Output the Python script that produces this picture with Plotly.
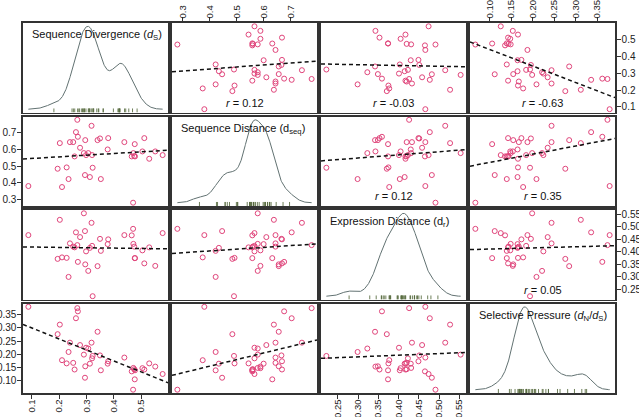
import numpy as np
import plotly.graph_objects as go

# ---- data ----
ds = [0.087, 0.194, 0.202, 0.210, 0.227, 0.234, 0.239, 0.251, 0.256, 0.261,
      0.266, 0.268, 0.276, 0.290, 0.294, 0.295, 0.298, 0.306, 0.312, 0.318,
      0.320, 0.322, 0.340, 0.349, 0.352, 0.377, 0.379, 0.438, 0.465, 0.470,
      0.471, 0.474, 0.476, 0.477, 0.504, 0.511, 0.529, 0.551, 0.578]
dseq = [0.380, 0.484, 0.638, 0.374, 0.492, 0.422, 0.644, 0.644, 0.558, 0.704,
        0.778, 0.676, 0.610, 0.578, 0.446, 0.656, 0.566, 0.578, 0.434, 0.742,
        0.566, 0.490, 0.656, 0.666, 0.422, 0.600, 0.668, 0.644, 0.558, 0.280,
        0.578, 0.560, 0.632, 0.558, 0.588, 0.668, 0.544, 0.588, 0.566]
dr = [0.466, 0.371, 0.527, 0.377, 0.375, 0.299, 0.433, 0.420, 0.417, 0.477,
      0.426, 0.359, 0.458, 0.553, 0.482, 0.349, 0.401, 0.323, 0.415, 0.515,
      0.423, 0.222, 0.342, 0.451, 0.403, 0.430, 0.449, 0.466, 0.465, 0.491,
      0.431, 0.420, 0.374, 0.374, 0.405, 0.353, 0.417, 0.343, 0.474]
dnds = [0.379, 0.276, 0.312, 0.178, 0.166, 0.209, 0.244, 0.168, 0.143, 0.336,
        0.374, 0.362, 0.235, 0.199, 0.112, 0.155, 0.225, 0.222, 0.165, 0.244,
        0.185, 0.194, 0.285, 0.196, 0.140, 0.165, 0.174, 0.188, 0.136, 0.067,
        0.149, 0.144, 0.106, 0.140, 0.148, 0.143, 0.166, 0.154, 0.126]

variables = [ds, dseq, dr, dnds]
diag_labels = [
    "Sequence Divergence (<i>d</i><sub>S</sub>)",
    "Sequence Distance (d<sub>seq</sub>)",
    "Expression Distance (d<sub>r</sub>)",
    "Selective Pressure (<i>d</i><sub>N</sub>/<i>d</i><sub>S</sub>)",
]
r_labels = {(0, 1): "0.12", (0, 2): "-0.03", (0, 3): "-0.63",
            (1, 2): "0.12", (1, 3): "0.35", (2, 3): "0.05"}
tick_labels = [
    ["0.1", "0.2", "0.3", "0.4", "0.5"],
    ["0.3", "0.4", "0.5", "0.6", "0.7"],
    ["0.25", "0.30", "0.35", "0.40", "0.45", "0.50", "0.55"],
    ["0.10", "0.15", "0.20", "0.25", "0.30", "0.35"],
]

# ---- styling / geometry (pixels) ----
W, H = 639, 417
LEFT, TOP, PW, PH, GAP = 23, 23, 145, 89.5, 4
FRAME = "#333333"
PT_COLOR = "#e0457b"
DENS_COLOR = "#627272"
RUG_COLOR = "rgba(85,105,60,0.85)"
FONT = "Liberation Sans, Arial, sans-serif"

def fx(px):
    return px / W

def fy(py):
    return 1 - py / H

def col_px(j):
    return LEFT + j * (PW + GAP), LEFT + j * (PW + GAP) + PW

def row_px(i):
    return TOP + i * (PH + GAP), TOP + i * (PH + GAP) + PH

def padded(v):
    lo, hi = min(v), max(v)
    d = hi - lo
    return [lo - 0.04 * d, hi + 0.04 * d]

def nrd0(x):
    x = np.asarray(x)
    sd = x.std(ddof=1)
    q75, q25 = np.percentile(x, [75, 25])
    lo = min(sd, (q75 - q25) / 1.34)
    return 0.9 * lo * len(x) ** -0.2

ranges = [padded(v) for v in variables]

fig = go.Figure()
layout = {}
annotations = []

for i in range(4):
    for j in range(4):
        k = i * 4 + j + 1
        xa = "x" if k == 1 else f"x{k}"
        ya = "y" if k == 1 else f"y{k}"
        xkey = "xaxis" if k == 1 else f"xaxis{k}"
        ykey = "yaxis" if k == 1 else f"yaxis{k}"
        x0, x1 = col_px(j)
        y0, y1 = row_px(i)
        xr = ranges[j]

        if i == j:
            v = np.asarray(variables[i])
            bw = nrd0(v)
            grid = np.linspace(v.min() - 3 * bw, v.max() + 3 * bw, 512)
            dens = np.exp(-0.5 * ((grid[:, None] - v[None, :]) / bw) ** 2).sum(axis=1)
            dens /= (len(v) * bw * np.sqrt(2 * np.pi))
            xr = padded(grid)
            yr = padded(dens)
            fig.add_trace(go.Scatter(x=grid, y=dens, mode="lines",
                                     line=dict(color=DENS_COLOR, width=1),
                                     xaxis=xa, yaxis=ya, hoverinfo="skip"))
            rx, ry = [], []
            rug_top = yr[0] + 0.045 * (yr[1] - yr[0])
            for val in v:
                rx += [val, val, None]
                ry += [yr[0], rug_top, None]
            fig.add_trace(go.Scatter(x=rx, y=ry, mode="lines",
                                     line=dict(color=RUG_COLOR, width=1),
                                     xaxis=xa, yaxis=ya, hoverinfo="skip"))
            annotations.append(dict(text=diag_labels[i], xref="paper", yref="paper",
                                    x=fx(x0 + 7), y=fy(y0 + 12),
                                    xanchor="left", yanchor="middle", showarrow=False,
                                    font=dict(size=11, color="#111", family=FONT)))
        else:
            xv = np.asarray(variables[j])
            yv = np.asarray(variables[i])
            yr = ranges[i]
            fig.add_trace(go.Scatter(x=xv, y=yv, mode="markers",
                                     marker=dict(symbol="circle-open", size=5,
                                                 color=PT_COLOR,
                                                 line=dict(width=1, color=PT_COLOR)),
                                     xaxis=xa, yaxis=ya, hoverinfo="skip"))
            slope, icpt = np.polyfit(xv, yv, 1)
            lx = np.array(xr)
            fig.add_trace(go.Scatter(x=lx, y=icpt + slope * lx, mode="lines",
                                     line=dict(color="#111", width=1.5, dash="4px,3px"),
                                     xaxis=xa, yaxis=ya, hoverinfo="skip"))
            if (i, j) in r_labels:
                annotations.append(dict(text="<i>r</i> = " + r_labels[(i, j)],
                                        xref="paper", yref="paper",
                                        x=fx((x0 + x1) / 2), y=fy(y1 - 10),
                                        xanchor="center", yanchor="middle",
                                        showarrow=False,
                                        font=dict(size=11, color="#111", family=FONT)))

        xax = dict(domain=[fx(x0), fx(x1)], anchor=ya, range=xr, automargin=False,
                   showline=True, mirror=True, linecolor=FRAME, linewidth=1.6,
                   showgrid=False, zeroline=False, fixedrange=True)
        yax = dict(domain=[fy(y1), fy(y0)], anchor=xa, range=yr, automargin=False,
                   showline=True, mirror=True, linecolor=FRAME, linewidth=1.6,
                   showgrid=False, zeroline=False, fixedrange=True)

        tv = [float(t) for t in tick_labels[j]]
        if (i == 0 and j in (1, 3)) or (i == 3 and j in (0, 2)):
            xax.update(side="top" if i == 0 else "bottom", ticks="outside",
                       ticklen=4, tickcolor=FRAME, tickwidth=1,
                       ticklabelstandoff=-3,
                       tickvals=tv, ticktext=tick_labels[j], tickangle=-90,
                       tickfont=dict(size=9.5, color="#222", family=FONT))
        else:
            xax.update(showticklabels=False, ticks="")

        tvy = [float(t) for t in tick_labels[i]]
        if (j == 3 and i in (0, 2)) or (j == 0 and i in (1, 3)):
            yax.update(side="right" if j == 3 else "left", ticks="outside",
                       ticklen=4, tickcolor=FRAME, tickwidth=1,
                       ticklabelstandoff=-1,
                       tickvals=tvy, ticktext=tick_labels[i],
                       tickfont=dict(size=10, color="#222", family=FONT))
        else:
            yax.update(showticklabels=False, ticks="")

        layout[xkey] = xax
        layout[ykey] = yax

fig.update_layout(template="none")
fig.update_layout(**layout)
fig.update_layout(width=W, height=H, margin=dict(l=0, r=0, t=0, b=0, autoexpand=False),
                  paper_bgcolor="white", plot_bgcolor="white",
                  showlegend=False, annotations=annotations,
                  font=dict(family=FONT))
fig.write_html("out.html", config={"displayModeBar": False, "staticPlot": True},
               post_script="document.body.style.margin='0';document.body.style.padding='0';")
